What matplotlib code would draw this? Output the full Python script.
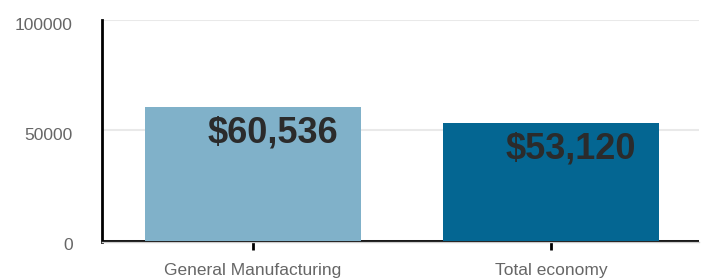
import matplotlib
matplotlib.use("Agg")
import matplotlib.pyplot as plt
import matplotlib.transforms as mtransforms

# data
categories = ["General Manufacturing", "Total economy"]
values = [60536, 53120]
labels = ["$60,536", "$53,120"]
bar_colors = ["#80b1c9", "#046692"]

plt.rcParams['font.family'] = ['Liberation Sans', 'DejaVu Sans']

fig = plt.figure(figsize=(7.13, 2.8), dpi=100)
ax = fig.add_axes([102 / 713, 38 / 280, 597 / 713, 222 / 280])

x = range(len(categories))
bars = ax.bar(x, values, width=0.725, color=bar_colors, zorder=3)
ax.axhline(0, color="black", lw=2, zorder=2)

for b, txt in zip(bars, labels):
    ax.annotate(txt, (b.get_x() + b.get_width() / 2, b.get_height()),
                xytext=(20, -8), textcoords="offset pixels",
                ha="center", va="top", fontsize=26, fontweight="bold",
                color="#2b2b2b", zorder=4)

ax.set_xlim(-0.507, 1.497)
ax.set_ylim(-680, 100000)
ax.set_yticks([0, 50000, 100000])
ax.set_xticks(list(x))
ax.set_xticklabels(categories)

ax.grid(axis="y", color="#e9e9e9", lw=1.5, zorder=0)
ax.set_axisbelow(True)

for s in ["top", "right"]:
    ax.spines[s].set_visible(False)
ax.spines["left"].set_color("black")
ax.spines["left"].set_linewidth(2)
ax.spines["bottom"].set_color("#cccccc")
ax.spines["bottom"].set_linewidth(1)

ax.tick_params(axis="y", length=0, pad=21, labelsize=12.5, labelcolor="#666666")
ax.tick_params(axis="x", length=6, width=2, color="black", pad=9,
               labelsize=12.5, labelcolor="#666666")

# y labels sit a little below their gridlines
shift = mtransforms.ScaledTranslation(0, -3.5 / 100, fig.dpi_scale_trans)
for lab in ax.get_yticklabels():
    lab.set_transform(lab.get_transform() + shift)

fig.savefig("out.png", dpi=100)
